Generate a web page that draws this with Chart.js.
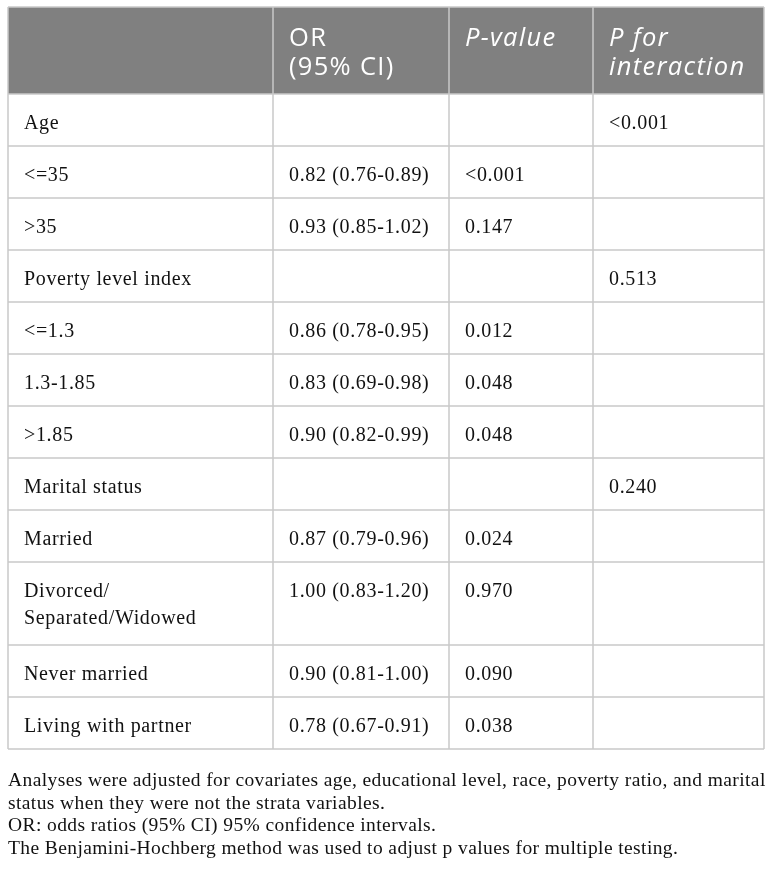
<!DOCTYPE html>
<html>
<head>
<meta charset="utf-8">
<script src="https://cdn.jsdelivr.net/npm/chart.js@4.4.0/dist/chart.umd.min.js"></script>
<style>
html, body { margin: 0; padding: 0; background: #fff; }
canvas { display: block; }
</style>
</head>
<body>
<canvas id="tabla" width="772" height="869"></canvas>
<script>
// Datos de la tabla
const headers = ['', 'OR\n(95% CI)', 'P-value', 'P for\ninteraction'];
const headerItalic = [false, false, true, true];
const rowLabels = ['Age', '<=35', '>35', 'Poverty level index', '<=1.3', '1.3-1.85', '>1.85',
  'Marital status', 'Married', 'Divorced/\nSeparated/Widowed', 'Never married', 'Living with partner'];
const orCI = ['', '0.82 (0.76-0.89)', '0.93 (0.85-1.02)', '', '0.86 (0.78-0.95)', '0.83 (0.69-0.98)',
  '0.90 (0.82-0.99)', '', '0.87 (0.79-0.96)', '1.00 (0.83-1.20)', '0.90 (0.81-1.00)', '0.78 (0.67-0.91)'];
const pValues = ['', '<0.001', '0.147', '', '0.012', '0.048', '0.048', '', '0.024', '0.970', '0.090', '0.038'];
const pInteraction = ['<0.001', '', '', '0.513', '', '', '', '0.240', '', '', '', ''];
const notes = [
  'Analyses were adjusted for covariates age, educational level, race, poverty ratio, and marital',
  'status when they were not the strata variables.',
  'OR: odds ratios (95% CI) 95% confidence intervals.',
  'The Benjamini-Hochberg method was used to adjust p values for multiple testing.'
];

// Medidas de la tabla (en unidades de las escalas)
const colWidths = [265, 176, 144, 171];
const headerH = 87;
const rowH = 52;
const extraLineH = 31;
const padX = 16;

var columnas = [rowLabels, orCI, pValues, pInteraction];
var anchoTotal = colWidths.reduce((a, b) => a + b, 0);

// bordes de filas
var bordesFila = [0, headerH];
rowLabels.forEach(function(lbl) {
  var lineas = lbl.split('\n').length;
  bordesFila.push(bordesFila[bordesFila.length - 1] + rowH + (lineas - 1) * extraLineH);
});
var altoTotal = bordesFila[bordesFila.length - 1];

var bordesCol = [0];
colWidths.forEach(w => bordesCol.push(bordesCol[bordesCol.length - 1] + w));

const tablaPlugin = {
  id: 'tabla',
  afterDraw: function(chart) {
    var ctx = chart.ctx;
    var sx = chart.scales.x, sy = chart.scales.y;
    var px = v => sx.getPixelForValue(v);
    var py = v => sy.getPixelForValue(v);

    ctx.save();
    // fondo de la cabecera
    ctx.fillStyle = '#808080';
    ctx.fillRect(px(0), py(0), px(anchoTotal) - px(0), py(headerH) - py(0));

    // lineas horizontales
    ctx.strokeStyle = '#c8c8c8';
    ctx.lineWidth = 1.5;
    bordesFila.forEach(function(b) {
      ctx.beginPath();
      ctx.moveTo(px(0), py(b));
      ctx.lineTo(px(anchoTotal), py(b));
      ctx.stroke();
    });
    // lineas verticales
    bordesCol.forEach(function(b) {
      ctx.beginPath();
      ctx.moveTo(px(b), py(0));
      ctx.lineTo(px(b), py(altoTotal));
      ctx.stroke();
    });

    // texto cabecera
    ctx.fillStyle = '#ffffff';
    ctx.textBaseline = 'alphabetic';
    ctx.letterSpacing = '1.3px';
    headers.forEach(function(h, i) {
      ctx.font = (headerItalic[i] ? 'italic ' : '') + '25.5px "Open Sans"';
      h.split('\n').forEach(function(linea, k) {
        ctx.fillText(linea, px(bordesCol[i] + padX), py(39 + k * 29));
      });
    });

    // texto cuerpo
    ctx.fillStyle = '#111111';
    ctx.letterSpacing = '0.65px';
    ctx.font = '20px "Liberation Serif"';
    columnas.forEach(function(col, i) {
      col.forEach(function(txt, r) {
        txt.split('\n').forEach(function(linea, k) {
          ctx.fillText(linea, px(bordesCol[i] + padX), py(bordesFila[r + 1] + 35 + k * 27));
        });
      });
    });

    // notas al pie
    ctx.letterSpacing = '0.4px';
    ctx.font = '19.5px "Liberation Serif"';
    notes.forEach(function(n, k) {
      ctx.fillText(n, px(0), py(altoTotal) + 37 + k * 22.5);
    });
    ctx.restore();
  }
};

new Chart(document.getElementById('tabla').getContext('2d'), {
  type: 'scatter',
  data: { labels: rowLabels, datasets: [] },
  options: {
    responsive: false,
    animation: false,
    layout: { padding: { left: 8, right: 8, top: 7, bottom: 120 } },
    plugins: { legend: { display: false }, tooltip: { enabled: false } },
    scales: {
      x: { type: 'linear', min: 0, max: anchoTotal, offset: false, display: false },
      y: { type: 'linear', min: 0, max: altoTotal, reverse: true, offset: false, display: false }
    }
  },
  plugins: [tablaPlugin]
});
</script>
</body>
</html>
